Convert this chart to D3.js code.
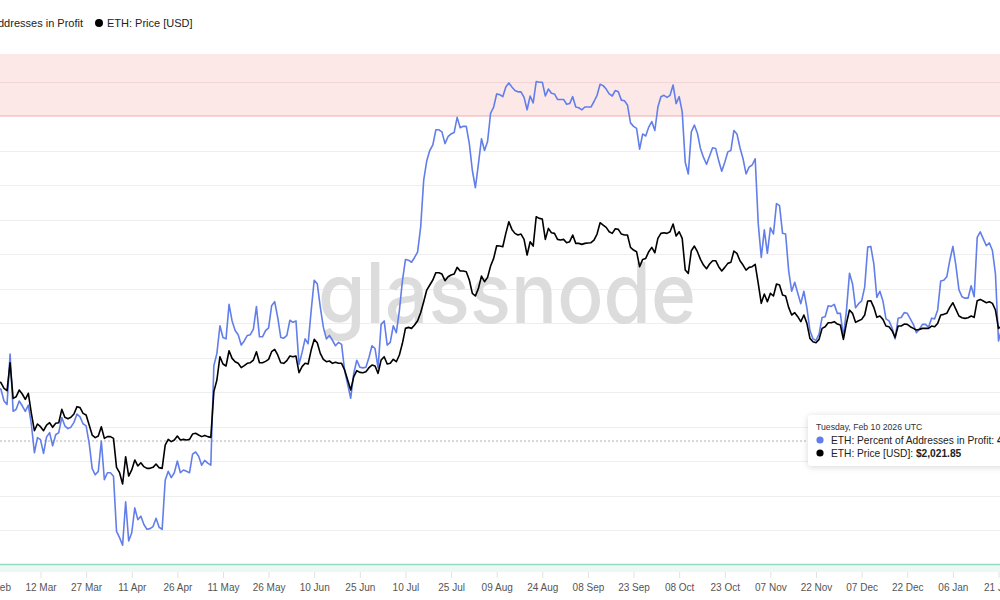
<!DOCTYPE html>
<html>
<head>
<meta charset="utf-8">
<script src="https://cdn.jsdelivr.net/npm/d3@7"></script>
<style>
  body { margin: 0; background: #fff; }
  svg { display: block; font-family: "Liberation Sans", Arial, sans-serif; }
</style>
</head>
<body>
<div id="chart"></div>
<script>
// daily values, first day below
const startDay = '2025-02-26';

const profitPct = [
  50.6,
  50.4, 48.7, 48.2, 55.5, 47.2, 47.5, 48.7, 48.0, 47.2, 48.1,
  45.3, 41.2, 43.4, 43.1, 41.1, 43.5, 44.1, 42.2, 43.8, 44.1,
  46.3, 45.1, 44.7, 44.9, 45.6, 46.8, 46.4, 45.4, 45.1, 42.6,
  38.9, 38.0, 38.5, 42.9, 37.3, 38.3, 38.3, 37.8, 29.8, 28.9,
  27.8, 34.1, 28.4, 29.6, 33.2, 31.5, 32.0, 30.8, 30.1, 30.2,
  30.5, 31.7, 30.4, 30.1, 37.2, 38.5, 37.6, 38.3, 40.0, 38.3,
  38.7, 38.5, 38.3, 41.0, 41.3, 40.7, 39.4, 40.1, 39.7, 39.4,
  53.8, 55.6, 59.6, 57.9, 57.7, 62.7, 60.3, 58.9, 58.3, 56.8,
  57.4, 58.2, 58.3,
  59.1, 62.4, 58.0, 58.0, 58.9, 59.3, 62.5, 63.1, 60.8, 57.9,
  57.8, 58.2, 60.4, 60.1, 60.3, 54.0, 55.7, 57.7, 57.0, 61.8,
  66.2, 65.7, 62.3, 59.4, 57.7, 58.2, 57.5, 56.7, 57.2, 56.9,
  53.1, 51.1, 49.1, 52.7, 54.6, 53.6, 53.5, 53.6, 55.0, 56.7,
  56.3, 53.5, 59.8, 60.3, 56.8, 57.2, 59.6, 58.6, 61.8, 66.1,
  69.2, 69.1, 68.8, 69.5, 70.3, 73.9, 80.7, 83.5, 85.0, 85.8,
  88.0, 88.0, 87.7, 86.0, 87.0, 87.4, 87.6, 89.8, 88.3, 88.5,
  88.5, 86.0, 82.1, 79.6, 83.1, 86.7, 85.0, 86.3, 90.4, 91.3,
  93.2, 93.1,
  92.8, 94.2, 94.8, 94.2, 93.7, 93.5, 93.5, 92.7, 90.9, 92.9,
  91.9, 95.0, 94.9, 94.9, 92.9, 93.9, 93.3, 93.2, 92.4, 92.4,
  92.4, 91.7, 91.8, 92.8, 91.3, 91.2, 90.9, 91.3, 91.3, 91.3,
  92.1, 93.0, 94.6, 94.4, 93.9, 93.2, 92.9, 93.7, 93.5, 92.3,
  92.2, 91.6, 89.0, 88.5, 88.2, 85.2, 87.4, 87.1, 88.4, 89.2,
  87.9, 91.3, 92.8, 93.0, 92.7, 93.0, 94.5, 91.8, 92.8, 90.6,
  83.3, 81.6, 87.7, 88.7, 87.5, 85.3, 84.0, 83.0, 84.2, 85.4,
  85.3, 83.5, 82.0, 83.3, 84.8, 85.0, 87.9, 87.4, 85.4, 83.8,
  81.6, 82.6,
  82.9, 83.8, 74.4, 69.5, 73.5, 70.1, 73.8, 72.9, 77.3, 77.0,
  73.0, 72.9, 67.6, 64.6, 65.9, 64.3, 62.8, 64.6, 62.2, 58.9,
  57.7, 57.5, 58.4, 60.8, 60.9, 62.5, 62.4, 62.7, 61.4, 61.4,
  58.0, 61.8, 67.2, 65.7, 62.2, 62.8, 63.2, 65.2, 71.0, 71.1,
  68.6, 63.7, 64.6, 63.2, 60.6, 60.3, 59.3, 57.7, 60.7, 60.8,
  61.5, 61.4, 60.6, 59.8, 58.6, 59.1, 59.8, 59.8, 59.4, 60.7,
  60.6, 61.9, 66.1, 66.2, 66.7, 69.1, 71.1, 68.3, 64.8, 63.8,
  63.6, 63.6, 65.4, 63.8, 72.4, 73.2, 72.2, 71.2, 71.6, 70.5,
  67.1, 57.4, 59.1
];

const priceUsd = [
  2320,
  2310, 2252, 2229, 2524, 2154, 2170, 2235, 2196, 2145, 2203,
  2015, 1866, 1922, 1899, 1866, 1913, 1933, 1894, 1928, 1933,
  2051, 1980, 1968, 1980, 2009, 2076, 2067, 2015, 2000, 1913,
  1830, 1809, 1822, 1899, 1803, 1817, 1817, 1803, 1585, 1548,
  1472, 1662, 1525, 1567, 1638, 1595, 1618, 1590, 1578, 1578,
  1585, 1609, 1583, 1578, 1750, 1795, 1777, 1790, 1822, 1790,
  1795, 1790, 1795, 1838, 1844, 1830, 1817, 1827, 1817, 1811,
  2219, 2337, 2592, 2509, 2487, 2662, 2573, 2535, 2517, 2469,
  2491, 2517, 2524,
  2554, 2650, 2524, 2524, 2539, 2562, 2650, 2678, 2612, 2524,
  2517, 2547, 2600, 2592, 2600, 2414, 2480, 2517, 2509, 2670,
  2800, 2759, 2631, 2562, 2535, 2543, 2517, 2528, 2517, 2517,
  2443, 2337, 2235, 2372, 2436, 2418, 2414, 2425, 2469, 2498,
  2487, 2407, 2554, 2592, 2509, 2517, 2562, 2535, 2612, 2751,
  2940, 2953, 2940, 2984, 3042, 3152, 3310, 3486, 3565, 3645,
  3766, 3766, 3743, 3634, 3699, 3727, 3743, 3856, 3794, 3794,
  3782, 3645, 3435, 3395, 3512, 3710, 3618, 3688, 3879, 4013,
  4246, 4239,
  4227, 4485, 4723, 4565, 4485, 4452, 4471, 4367, 4073, 4322,
  4239, 4830, 4794, 4780, 4367, 4586, 4498, 4485, 4367, 4354,
  4367, 4303, 4322, 4452, 4290, 4290, 4271, 4290, 4296, 4303,
  4354, 4471, 4703, 4654, 4606, 4518, 4485, 4579, 4565, 4471,
  4452, 4452, 4214, 4165, 4134, 3867, 3995, 4013, 4134, 4214,
  4115, 4387, 4485, 4498, 4485, 4518, 4675, 4432, 4518, 4387,
  3810, 3754, 4152, 4239, 4134, 3995, 3896, 3833, 3913, 3972,
  3972, 3867, 3794, 3856, 3925, 3943, 4146, 4103, 3972, 3896,
  3810, 3856,
  3867, 3908, 3591, 3286, 3425, 3310, 3435, 3395, 3580, 3565,
  3410, 3395, 3228, 3120, 3152, 3097, 3029, 3120, 3006, 2812,
  2771, 2759, 2800, 2940, 2962, 3015, 3015, 3029, 2997, 2984,
  2800, 3006, 3190, 3143, 3020, 3042, 3060, 3120, 3320, 3325,
  3228, 3088, 3106, 3060, 2971, 2962, 2910, 2825, 2971, 2971,
  2997, 2993, 2962, 2940, 2919, 2927, 2940, 2940, 2940, 2971,
  2962, 3006, 3120, 3129, 3143, 3228, 3295, 3199, 3106, 3083,
  3074, 3083, 3106, 3088, 3325, 3344, 3320, 3295, 3310, 3286,
  3190, 2940, 2971
];

const tickDays = [
  '2025-02-25', '2025-03-12', '2025-03-27', '2025-04-11', '2025-04-26',
  '2025-05-11', '2025-05-26', '2025-06-10', '2025-06-25', '2025-07-10',
  '2025-07-25', '2025-08-09', '2025-08-24', '2025-09-08', '2025-09-23',
  '2025-10-08', '2025-10-23', '2025-11-07', '2025-11-22', '2025-12-07',
  '2025-12-22', '2026-01-06', '2026-01-21'
];

const pctGrid = [30, 35, 40, 45, 50, 55, 60, 65, 70, 75, 80, 85, 95];
const seriesNames = ['ETH: Percent of Addresses in Profit', 'ETH: Price [USD]'];
const hover = { title: 'Tuesday, Feb 10 2026 UTC', pct: '43.58%', price: '$2,021.85' };

const ethBlue = '#627eea';
const W = 1000, H = 600;
const plotTop = 54, plotBottom = 572;
const cursorY = 441;

const parse = d3.utcParse('%Y-%m-%d');
const dates = profitPct.map((_, i) => d3.utcDay.offset(parse(startDay), i));

const x = d3.scaleUtc()
  .domain([parse('2025-03-12'), parse('2026-01-21')])
  .range([40.5, 998.5]);
const yPct = d3.scaleLinear().domain([25, 95]).range([564.5, 81.5]);
const yPrice = d3.scaleLog().domain([1472, 4830]).range([484, 216.7]);

const svg = d3.select('#chart').append('svg')
  .attr('width', W).attr('height', H);

const defs = svg.append('defs');
defs.append('clipPath').attr('id', 'plot-clip')
  .append('rect').attr('x', 0).attr('y', plotTop)
  .attr('width', W).attr('height', plotBottom - plotTop);
const shadow = defs.append('filter').attr('id', 'tip-shadow')
  .attr('x', '-10%').attr('y', '-30%').attr('width', '130%').attr('height', '170%');
shadow.append('feDropShadow').attr('dx', 0).attr('dy', 1)
  .attr('stdDeviation', 3).attr('flood-color', '#000').attr('flood-opacity', 0.16);

// 1. bands
svg.append('rect')
  .attr('x', 0).attr('y', plotTop)
  .attr('width', W).attr('height', yPct(90) - plotTop)
  .attr('fill', '#fde8e8');
svg.append('rect')
  .attr('x', 0).attr('y', yPct(25))
  .attr('width', W).attr('height', plotBottom - yPct(25))
  .attr('fill', '#ecf8f3');

// 2. grid
svg.append('g')
  .selectAll('line')
  .data(pctGrid)
  .enter()
  .append('line')
  .attr('x1', 0).attr('x2', W)
  .attr('y1', d => Math.round(yPct(d)) + 0.5)
  .attr('y2', d => Math.round(yPct(d)) + 0.5)
  .attr('stroke', d => d > 90 ? '#f3d5d7' : '#eeeeee')
  .attr('stroke-width', 1);

svg.append('line')
  .attr('x1', 0).attr('x2', W)
  .attr('y1', yPct(90)).attr('y2', yPct(90))
  .attr('stroke', '#f4a9ab').attr('stroke-width', 1.2);
svg.append('line')
  .attr('x1', 0).attr('x2', W)
  .attr('y1', yPct(25)).attr('y2', yPct(25))
  .attr('stroke', '#93dcc3').attr('stroke-width', 1.5);

// 3. watermark
svg.append('text')
  .attr('x', 318).attr('y', 323)
  .attr('textLength', 378)
  .attr('lengthAdjust', 'spacingAndGlyphs')
  .style('font-family', 'Inter, "Liberation Sans", sans-serif')
  .style('font-size', '84px')
  .style('font-weight', 500)
  .attr('fill', '#dcdcdc')
  .text('glassnode');

// 4. x axis
const xAxis = d3.axisBottom(x)
  .tickValues(tickDays.map(parse))
  .tickFormat(d3.utcFormat('%d %b'))
  .tickSize(6)
  .tickPadding(6);
const axisG = svg.append('g')
  .attr('transform', `translate(0,${plotBottom})`)
  .call(xAxis);
axisG.select('.domain').remove();
axisG.selectAll('.tick line').attr('stroke', '#e2e2e2');
axisG.selectAll('.tick text')
  .attr('fill', '#555')
  .style('font-size', '10px');

// 5. cursor line
svg.append('line')
  .attr('x1', 0).attr('x2', W)
  .attr('y1', cursorY).attr('y2', cursorY)
  .attr('stroke', '#b0b0b0')
  .attr('stroke-dasharray', '2,2');

// 6. series
const rows = dates.map((d, i) => ({ date: d, pct: profitPct[i], price: priceUsd[i] }));
const lines = svg.append('g').attr('clip-path', 'url(#plot-clip)');

lines.append('path')
  .datum(rows)
  .attr('d', d3.line().x(d => x(d.date)).y(d => yPct(d.pct)))
  .attr('fill', 'none')
  .attr('stroke', ethBlue)
  .attr('stroke-width', 1.6)
  .attr('stroke-linejoin', 'round');

lines.append('path')
  .datum(rows)
  .attr('d', d3.line().x(d => x(d.date)).y(d => yPrice(d.price)))
  .attr('fill', 'none')
  .attr('stroke', '#000')
  .attr('stroke-width', 1.6)
  .attr('stroke-linejoin', 'round');

// 7. legend
const legend = svg.append('g').style('font-size', '11px').attr('fill', '#222');
legend.append('circle').attr('cx', -180).attr('cy', 23).attr('r', 4).attr('fill', ethBlue);
legend.append('text').attr('x', 83).attr('y', 27)
  .attr('text-anchor', 'end').text(seriesNames[0]);
legend.append('circle').attr('cx', 99).attr('cy', 23).attr('r', 4).attr('fill', '#000');
legend.append('text').attr('x', 107).attr('y', 27).text(seriesNames[1]);

// 8. tooltip
const tip = svg.append('g').attr('transform', 'translate(808,415)');
tip.append('rect')
  .attr('width', 230).attr('height', 51).attr('rx', 4)
  .attr('fill', '#fff')
  .attr('filter', 'url(#tip-shadow)');
tip.append('text')
  .attr('x', 8).attr('y', 15)
  .style('font-size', '8.7px')
  .attr('fill', '#333')
  .text(hover.title);

const tipRows = [
  { color: ethBlue, label: seriesNames[0] + ': ', value: hover.pct },
  { color: '#000', label: seriesNames[1] + ': ', value: hover.price },
];
tipRows.forEach((r, i) => {
  tip.append('circle')
    .attr('cx', 12).attr('cy', 25 + i * 13).attr('r', 3.6)
    .attr('fill', r.color);
  const t = tip.append('text')
    .attr('x', 23).attr('y', 29 + i * 13)
    .style('font-size', '10.2px')
    .attr('fill', '#222');
  t.append('tspan').text(r.label);
  t.append('tspan').style('font-weight', 'bold').text(r.value);
});
</script>
</body>
</html>
